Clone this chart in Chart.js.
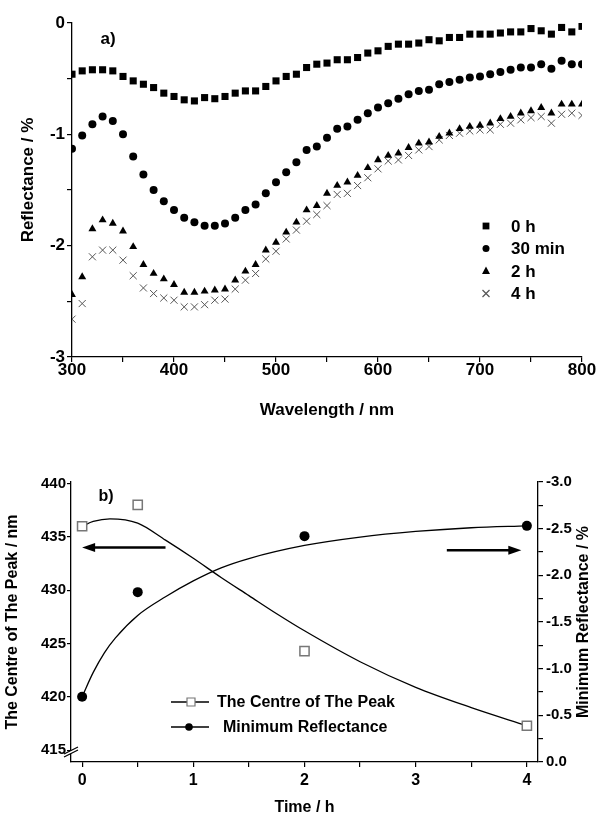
<!DOCTYPE html>
<html>
<head>
<meta charset="utf-8">
<script src="https://cdn.jsdelivr.net/npm/chart.js@4.4.1/dist/chart.umd.min.js"></script>
<style>
  html, body { margin: 0; padding: 0; background: #fff; }
  #wrap { position: relative; width: 598px; height: 814px; }
  canvas { position: absolute; left: 0; }
</style>
</head>
<body>
<div id="wrap">
  <canvas id="spectraChart" width="598" height="430" style="top:0"></canvas>
  <canvas id="kineticsChart" width="598" height="384" style="top:430px"></canvas>
</div>
<script>
// a) reflectance spectra
const wavelengths = [300, 310, 320, 330, 340, 350, 360, 370, 380, 390,
  400, 410, 420, 430, 440, 450, 460, 470, 480, 490,
  500, 510, 520, 530, 540, 550, 560, 570, 580, 590,
  600, 610, 620, 630, 640, 650, 660, 670, 680, 690,
  700, 710, 720, 730, 740, 750, 760, 770, 780, 790, 800];
const refl0h = [-0.46, -0.43, -0.42, -0.42, -0.43, -0.48, -0.52, -0.55, -0.58, -0.63,
  -0.66, -0.69, -0.70, -0.67, -0.68, -0.66, -0.63, -0.61, -0.61, -0.57,
  -0.52, -0.48, -0.46, -0.40, -0.37, -0.36, -0.33, -0.33, -0.31, -0.27,
  -0.25, -0.21, -0.19, -0.19, -0.18, -0.15, -0.16, -0.13, -0.13, -0.10,
  -0.10, -0.10, -0.09, -0.08, -0.08, -0.05, -0.07, -0.10, -0.04, -0.08, -0.03];
const refl30min = [-1.13, -1.01, -0.91, -0.84, -0.88, -1.00, -1.20, -1.36, -1.50, -1.60,
  -1.68, -1.75, -1.79, -1.82, -1.82, -1.80, -1.75, -1.68, -1.63, -1.53,
  -1.43, -1.34, -1.25, -1.14, -1.11, -1.03, -0.95, -0.93, -0.87, -0.81,
  -0.76, -0.72, -0.68, -0.64, -0.61, -0.60, -0.55, -0.53, -0.51, -0.49,
  -0.48, -0.46, -0.44, -0.42, -0.40, -0.40, -0.37, -0.41, -0.34, -0.37, -0.37];
const refl2h = [-2.44, -2.28, -1.85, -1.77, -1.80, -1.87, -2.01, -2.17, -2.25, -2.30,
  -2.35, -2.42, -2.42, -2.41, -2.40, -2.39, -2.31, -2.23, -2.17, -2.04,
  -1.97, -1.88, -1.79, -1.68, -1.64, -1.53, -1.46, -1.43, -1.37, -1.30,
  -1.23, -1.19, -1.17, -1.12, -1.08, -1.07, -1.02, -0.99, -0.95, -0.93,
  -0.92, -0.90, -0.86, -0.84, -0.81, -0.79, -0.76, -0.81, -0.73, -0.73, -0.73];
const refl4h = [-2.66, -2.52, -2.10, -2.04, -2.04, -2.13, -2.27, -2.38, -2.43, -2.47,
  -2.49, -2.55, -2.55, -2.53, -2.49, -2.48, -2.39, -2.31, -2.25, -2.12,
  -2.05, -1.94, -1.86, -1.78, -1.72, -1.64, -1.54, -1.53, -1.46, -1.39,
  -1.31, -1.24, -1.23, -1.19, -1.14, -1.11, -1.05, -1.01, -0.99, -0.97,
  -0.96, -0.96, -0.91, -0.90, -0.87, -0.85, -0.84, -0.90, -0.82, -0.81, -0.83];
const spectraLabels = ['0 h', '30 min', '2 h', '4 h'];

// b) peak position and minimum reflectance vs time
const times = [0, 0.5, 2, 4];
const peakCentre = [436.0, 438.0, 424.3, 417.3];
const minReflectance = [-0.70, -1.82, -2.42, -2.53];
const centreFitTimes = [0, 0.1, 0.25, 0.5, 0.75, 1, 1.25, 1.5, 1.75, 2, 2.5, 3, 3.5, 4];
const centreFit = [436.0, 436.45, 436.7, 436.3, 434.7, 433.0, 431.2, 429.5, 427.8, 426.2, 423.3, 420.9, 419.0, 417.3];
const minFitTimes = [0, 0.1, 0.2, 0.3, 0.5, 0.75, 1, 1.25, 1.5, 2, 2.5, 3, 3.5, 4];
const minFit = [-0.70, -0.96, -1.17, -1.33, -1.57, -1.77, -1.94, -2.08, -2.18, -2.32, -2.41, -2.47, -2.51, -2.53];
const kineticsLabels = ['The Centre of The Peak', 'Minimum Reflectance'];

const FONT = '"Liberation Sans", Arial, sans-serif';
Chart.defaults.font.family = FONT;
Chart.defaults.color = '#000';

function pts(xs, ys) {
    return xs.map((x, i) => ({ x: x, y: ys[i] }));
}

function text(ctx, str, x, y, size, rot) {
    ctx.save();
    ctx.translate(x, y);
    if (rot) ctx.rotate(rot);
    ctx.font = 'bold ' + size + 'px ' + FONT;
    ctx.fillStyle = '#000';
    ctx.textAlign = 'center';
    ctx.textBaseline = 'middle';
    ctx.fillText(str, 0, 0);
    ctx.restore();
}

function marker(ctx, style, x, y, r, fill, stroke) {
    ctx.save();
    ctx.beginPath();
    if (style === 'rect') {
        ctx.rect(x - r, y - r, 2 * r, 2 * r);
    } else if (style === 'circle') {
        ctx.arc(x, y, r, 0, Math.PI * 2);
    } else if (style === 'triangle') {
        ctx.moveTo(x, y - r * 1.1);
        ctx.lineTo(x + r, y + r * 0.75);
        ctx.lineTo(x - r, y + r * 0.75);
        ctx.closePath();
    } else {
        ctx.moveTo(x - r, y - r); ctx.lineTo(x + r, y + r);
        ctx.moveTo(x - r, y + r); ctx.lineTo(x + r, y - r);
    }
    if (fill) { ctx.fillStyle = fill; ctx.fill(); }
    if (stroke) { ctx.strokeStyle = stroke; ctx.lineWidth = 1.2; ctx.stroke(); }
    ctx.restore();
}

function arrow(ctx, x1, x2, y) {
    const dir = x2 > x1 ? 1 : -1;
    ctx.save();
    ctx.strokeStyle = '#000';
    ctx.fillStyle = '#000';
    ctx.lineWidth = 2.5;
    ctx.beginPath();
    ctx.moveTo(x1, y);
    ctx.lineTo(x2 - dir * 10, y);
    ctx.stroke();
    ctx.beginPath();
    ctx.moveTo(x2, y);
    ctx.lineTo(x2 - dir * 13, y - 4.5);
    ctx.lineTo(x2 - dir * 13, y + 4.5);
    ctx.closePath();
    ctx.fill();
    ctx.restore();
}

// decorations for chart a): panel label, legend, axis titles
const spectraDecor = {
    id: 'spectraDecor',
    afterDraw(chart) {
        const ctx = chart.ctx;
        const area = chart.chartArea;
        text(ctx, 'a)', 108, 39, 17);
        const styles = [['rect', 3.4, '#000', null], ['circle', 3.5, '#000', null],
                        ['triangle', 4, '#000', null], ['cross', 3.5, null, '#555']];
        spectraLabels.forEach((lab, i) => {
            const y = 226 + i * 22.5;
            const s = styles[i];
            marker(ctx, s[0], 486, y, s[1], s[2], s[3]);
            ctx.save();
            ctx.font = 'bold 17px ' + FONT;
            ctx.textAlign = 'left';
            ctx.textBaseline = 'middle';
            ctx.fillText(lab, 511, y + 1);
            ctx.restore();
        });
        text(ctx, 'Wavelength / nm', (area.left + area.right) / 2, 410, 17);
        text(ctx, 'Reflectance / %', 28, 180, 17, -Math.PI / 2);
    }
};

// decorations for chart b): panel label, arrows, legend, axis break, titles
const kineticsDecor = {
    id: 'kineticsDecor',
    afterDraw(chart) {
        const ctx = chart.ctx;
        const area = chart.chartArea;
        const sx = chart.scales.x, sy = chart.scales.y, sy2 = chart.scales.y2;
        text(ctx, 'b)', 106, 67, 16);
        arrow(ctx, sx.getPixelForValue(0.75), sx.getPixelForValue(0.0), sy.getPixelForValue(434.0));
        arrow(ctx, sx.getPixelForValue(3.28), sx.getPixelForValue(3.95), sy2.getPixelForValue(-2.27));

        // legend
        const rows = [{ y: 272, tx: 217 }, { y: 297, tx: 223 }];
        rows.forEach((r, i) => {
            ctx.save();
            ctx.strokeStyle = '#000';
            ctx.lineWidth = 1.3;
            ctx.beginPath();
            ctx.moveTo(171, r.y); ctx.lineTo(209, r.y);
            ctx.stroke();
            ctx.restore();
            if (i === 0) marker(ctx, 'rect', 191, r.y, 4, '#fff', '#777');
            else marker(ctx, 'circle', 189, r.y, 3.8, '#000', null);
            ctx.save();
            ctx.font = 'bold 16px ' + FONT;
            ctx.textAlign = 'left';
            ctx.textBaseline = 'middle';
            ctx.fillText(kineticsLabels[i], r.tx, r.y + 1);
            ctx.restore();
        });

        // axis break on the left axis
        const bx = area.left, by = area.bottom - 12;
        ctx.save();
        ctx.fillStyle = '#fff';
        ctx.beginPath();
        ctx.moveTo(bx - 7, by + 4); ctx.lineTo(bx + 7, by - 3);
        ctx.lineTo(bx + 7, by - 0); ctx.lineTo(bx - 7, by + 7);
        ctx.closePath();
        ctx.fill();
        ctx.strokeStyle = '#000';
        ctx.lineWidth = 1.2;
        ctx.beginPath();
        ctx.moveTo(bx - 7, by + 4); ctx.lineTo(bx + 7, by - 3);
        ctx.moveTo(bx - 7, by + 7); ctx.lineTo(bx + 7, by - 0);
        ctx.stroke();
        ctx.restore();

        text(ctx, 'Time / h', (area.left + area.right) / 2, 378, 16);
        text(ctx, 'The Centre of The Peak / nm', 13, (area.top + area.bottom) / 2, 16, -Math.PI / 2);
        text(ctx, 'Minimum Reflectance / %', 584, (area.top + area.bottom) / 2, 16, -Math.PI / 2);
    }
};

const axisLine = { color: '#000', width: 1.3 };
const tickGrid = { drawOnChartArea: false, tickLength: 5, color: '#000', lineWidth: 1.2 };

const spectraCtx = document.getElementById('spectraChart').getContext('2d');
const spectraChart = new Chart(spectraCtx, {
    type: 'scatter',
    data: {
        datasets: [{
            label: spectraLabels[0],
            data: pts(wavelengths, refl0h),
            pointStyle: 'rect',
            pointRadius: 5,
            backgroundColor: '#000',
            borderColor: '#000',
            borderWidth: 0
        }, {
            label: spectraLabels[1],
            data: pts(wavelengths, refl30min),
            pointStyle: 'circle',
            pointRadius: 4,
            backgroundColor: '#000',
            borderColor: '#000',
            borderWidth: 0
        }, {
            label: spectraLabels[2],
            data: pts(wavelengths, refl2h),
            pointStyle: 'triangle',
            pointRadius: 4.6,
            backgroundColor: '#000',
            borderColor: '#000',
            borderWidth: 0
        }, {
            label: spectraLabels[3],
            data: pts(wavelengths, refl4h),
            pointStyle: 'crossRot',
            pointRadius: 5,
            backgroundColor: '#555',
            borderColor: '#555',
            borderWidth: 1
        }]
    },
    options: {
        responsive: false,
        animation: false,
        layout: { padding: { left: 0, right: 16, top: 23, bottom: 0 } },
        plugins: {
            legend: { display: false },
            tooltip: { enabled: false }
        },
        scales: {
            x: {
                type: 'linear',
                min: 300,
                max: 800,
                afterFit: function (s) { s.height = 73; },
                grid: tickGrid,
                border: axisLine,
                ticks: {
                    stepSize: 50,
                    autoSkip: false,
                    maxRotation: 0,
                    padding: 0,
                    font: { size: 17, weight: 'bold', lineHeight: 1 },
                    callback: v => (v % 100 === 0 ? String(v) : '')
                }
            },
            y: {
                min: -3,
                max: 0,
                afterFit: function (s) { s.width = 72; },
                grid: tickGrid,
                border: axisLine,
                ticks: {
                    stepSize: 0.5,
                    autoSkip: false,
                    padding: 2,
                    font: { size: 17, weight: 'bold' },
                    callback: v => (Number.isInteger(v) ? String(v) : '')
                }
            }
        }
    },
    plugins: [spectraDecor]
});

const kineticsCtx = document.getElementById('kineticsChart').getContext('2d');
const kineticsChart = new Chart(kineticsCtx, {
    type: 'scatter',
    data: {
        datasets: [{
            label: kineticsLabels[0],
            data: pts(times, peakCentre),
            yAxisID: 'y',
            pointStyle: 'rect',
            pointRadius: 6.5,
            backgroundColor: '#fff',
            borderColor: '#777',
            borderWidth: 1.5,
            order: 1
        }, {
            label: kineticsLabels[1],
            data: pts(times, minReflectance),
            yAxisID: 'y2',
            pointStyle: 'circle',
            pointRadius: 5,
            backgroundColor: '#000',
            borderColor: '#000',
            borderWidth: 0,
            order: 1
        }, {
            label: 'centre fit',
            data: pts(centreFitTimes, centreFit),
            yAxisID: 'y',
            showLine: true,
            cubicInterpolationMode: 'monotone',
            pointRadius: 0,
            borderColor: '#000',
            borderWidth: 1.3,
            fill: false,
            order: 2
        }, {
            label: 'minimum fit',
            data: pts(minFitTimes, minFit),
            yAxisID: 'y2',
            showLine: true,
            cubicInterpolationMode: 'monotone',
            pointRadius: 0,
            borderColor: '#000',
            borderWidth: 1.3,
            fill: false,
            order: 2
        }]
    },
    options: {
        responsive: false,
        animation: false,
        layout: { padding: { left: 0, right: 0, top: 52, bottom: 0 } },
        plugins: {
            legend: { display: false },
            tooltip: { enabled: false }
        },
        scales: {
            x: {
                type: 'linear',
                min: -0.1,
                max: 4.1,
                afterFit: function (s) { s.height = 52; },
                grid: tickGrid,
                border: axisLine,
                ticks: {
                    stepSize: 0.5,
                    includeBounds: false,
                    autoSkip: false,
                    maxRotation: 0,
                    padding: 6,
                    font: { size: 16, weight: 'bold', lineHeight: 1 },
                    callback: v => (Number.isInteger(v) ? String(v) : '')
                }
            },
            y: {
                position: 'left',
                min: 413.9,
                max: 440.15,
                afterFit: function (s) { s.width = 71; },
                grid: { drawOnChartArea: false, tickLength: 4, color: '#000', lineWidth: 1.2 },
                border: axisLine,
                ticks: {
                    stepSize: 5,
                    includeBounds: false,
                    autoSkip: false,
                    padding: 1,
                    font: { size: 15, weight: 'bold' },
                    callback: v => String(v)
                }
            },
            y2: {
                position: 'right',
                min: -3,
                max: 0,
                reverse: true,
                afterFit: function (s) { s.width = 60; },
                grid: tickGrid,
                border: axisLine,
                ticks: {
                    stepSize: 0.25,
                    autoSkip: false,
                    padding: 3,
                    font: { size: 15, weight: 'bold' },
                    callback: v => (Math.abs(v * 2 - Math.round(v * 2)) < 1e-9 ? v.toFixed(1) : '')
                }
            }
        }
    },
    plugins: [kineticsDecor]
});
</script>
</body>
</html>
